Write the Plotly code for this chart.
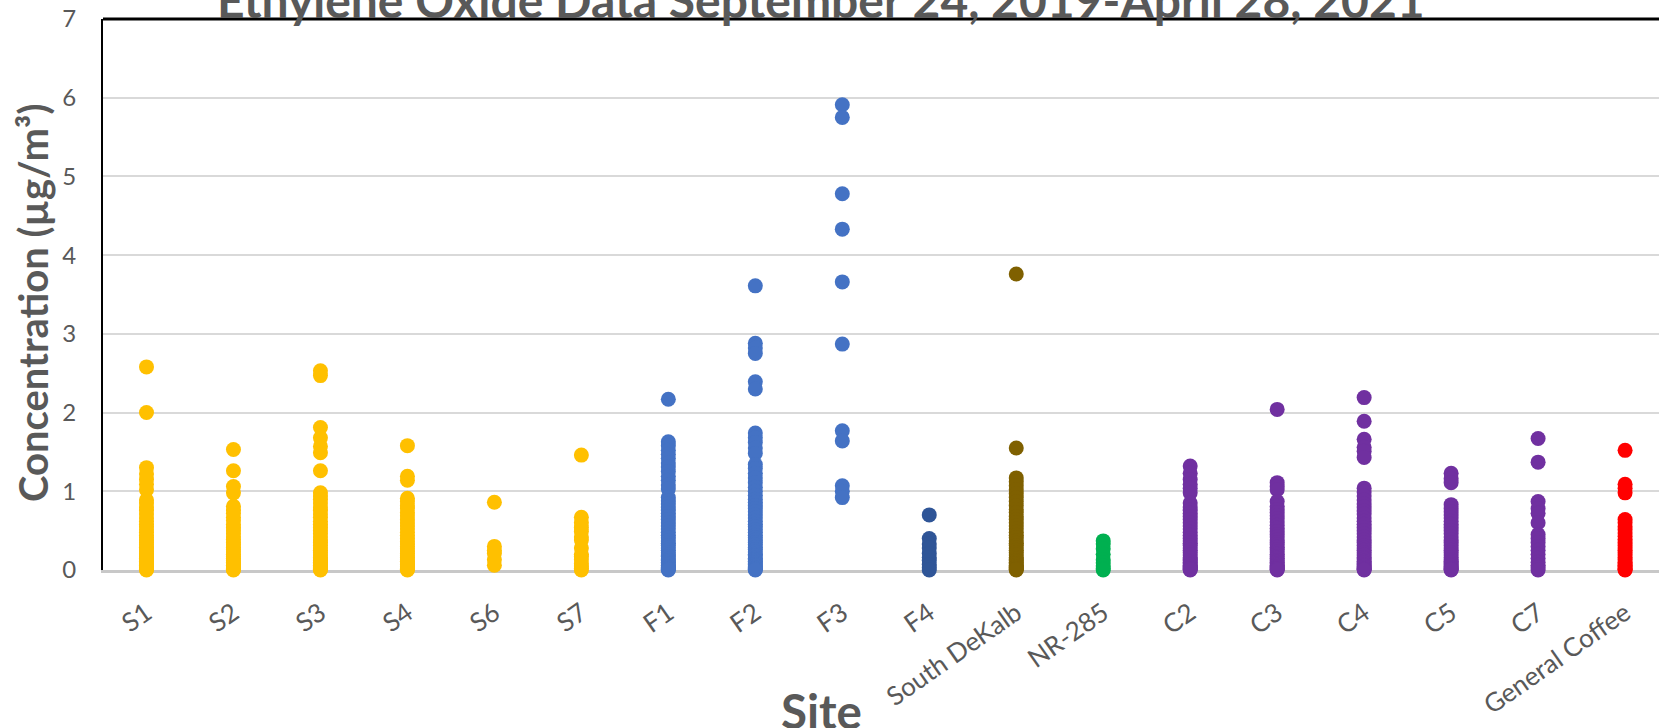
import plotly.graph_objects as go

sites = ["S1", "S2", "S3", "S4", "S6", "S7", "F1", "F2", "F3", "F4",
         "South DeKalb", "NR-285", "C2", "C3", "C4", "C5", "C7", "General Coffee"]

S1 = [2.58, 2.0, 1.30, 1.22, 1.15, 1.09, 1.02, 0.89, 0.85, 0.8, 0.76, 0.71, 0.66, 0.62, 0.58, 0.55,
      0.51, 0.48, 0.44, 0.41, 0.38, 0.35, 0.32, 0.29, 0.27, 0.24, 0.21, 0.19, 0.17, 0.15, 0.13, 0.11,
      0.09, 0.07, 0.06, 0.05, 0.04, 0.03, 0.02, 0.01, 0.0]
S2 = [1.53, 1.26, 1.06, 0.98, 0.81, 0.76, 0.72, 0.67, 0.63, 0.58, 0.54, 0.5, 0.46, 0.42, 0.39, 0.35,
      0.32, 0.29, 0.26, 0.23, 0.2, 0.17, 0.15, 0.12, 0.1, 0.08, 0.06, 0.04, 0.03, 0.02, 0.01, 0.0]
S3 = [2.53, 2.47, 1.81, 1.68, 1.57, 1.49, 1.26, 0.98, 0.94, 0.9, 0.85, 0.8, 0.76, 0.71, 0.67, 0.62,
      0.58, 0.54, 0.5, 0.46, 0.42, 0.38, 0.35, 0.31, 0.28, 0.25, 0.22, 0.19, 0.16, 0.14, 0.12, 0.1,
      0.08, 0.06, 0.04, 0.03, 0.02, 0.01, 0.0]
S4 = [1.58, 1.19, 1.14, 0.91, 0.87, 0.82, 0.78, 0.73, 0.69, 0.64, 0.6, 0.56, 0.52, 0.48, 0.44, 0.4,
      0.36, 0.33, 0.3, 0.27, 0.24, 0.21, 0.18, 0.16, 0.13, 0.11, 0.09, 0.07, 0.05, 0.04, 0.02, 0.01, 0.0]
S6 = [0.86, 0.30, 0.25, 0.21, 0.13, 0.06]
S7 = [1.46, 0.67, 0.6, 0.54, 0.49, 0.42, 0.38, 0.28, 0.2, 0.17, 0.13, 0.08, 0.05, 0.02, 0.0]
F1 = [2.17, 1.63, 1.58, 1.52, 1.47, 1.42, 1.36, 1.31, 1.25, 1.19, 1.14, 1.08, 1.03, 0.92, 0.88, 0.84,
      0.8, 0.76, 0.72, 0.68, 0.64, 0.6, 0.56, 0.52, 0.48, 0.44, 0.41, 0.37, 0.34, 0.31, 0.28, 0.25,
      0.22, 0.19, 0.17, 0.14, 0.12, 0.1, 0.08, 0.06, 0.04, 0.03, 0.02, 0.01, 0.0]
F2 = [3.61, 2.88, 2.82, 2.75, 2.39, 2.30, 1.74, 1.68, 1.62, 1.55, 1.48, 1.34, 1.29, 1.23, 1.17, 1.11,
      1.05, 1.0, 0.95, 0.9, 0.86, 0.82, 0.78, 0.74, 0.7, 0.66, 0.62, 0.58, 0.55, 0.51, 0.48, 0.44,
      0.41, 0.38, 0.35, 0.32, 0.29, 0.26, 0.23, 0.2, 0.18, 0.15, 0.13, 0.11, 0.09, 0.07, 0.05, 0.03,
      0.02, 0.01, 0.0]
F3 = [5.91, 5.75, 4.78, 4.33, 3.66, 2.87, 1.77, 1.64, 1.07, 1.0, 0.92]
F4 = [0.70, 0.40, 0.33, 0.28, 0.21, 0.16, 0.12, 0.07, 0.03, 0.0]
SDK = [3.76, 1.55, 1.17, 1.12, 1.07, 1.02, 0.97, 0.92, 0.87, 0.82, 0.77, 0.73, 0.68, 0.64, 0.6, 0.56,
       0.52, 0.48, 0.44, 0.41, 0.37, 0.34, 0.31, 0.28, 0.25, 0.22, 0.19, 0.16, 0.14, 0.12, 0.1, 0.08,
       0.06, 0.04, 0.03, 0.02, 0.01, 0.0]
NR285 = [0.37, 0.33, 0.27, 0.2, 0.13, 0.09, 0.05, 0.02, 0.0]
C2 = [1.32, 1.23, 1.15, 1.09, 1.04, 0.98, 0.85, 0.8, 0.76, 0.72, 0.68, 0.64, 0.6, 0.56, 0.52, 0.48,
      0.44, 0.4, 0.37, 0.34, 0.31, 0.28, 0.25, 0.22, 0.19, 0.16, 0.14, 0.12, 0.1, 0.08, 0.06, 0.04,
      0.03, 0.02, 0.01, 0.0]
C3 = [2.04, 1.11, 1.06, 1.02, 0.87, 0.81, 0.77, 0.73, 0.69, 0.65, 0.61, 0.57, 0.53, 0.49, 0.45, 0.42,
      0.38, 0.35, 0.32, 0.29, 0.26, 0.23, 0.2, 0.17, 0.15, 0.12, 0.1, 0.08, 0.06, 0.04, 0.03, 0.02,
      0.01, 0.0]
C4 = [2.19, 1.89, 1.66, 1.56, 1.51, 1.43, 1.04, 0.99, 0.94, 0.89, 0.84, 0.8, 0.75, 0.71, 0.66, 0.62,
      0.58, 0.54, 0.5, 0.46, 0.42, 0.38, 0.35, 0.31, 0.28, 0.25, 0.22, 0.19, 0.16, 0.14, 0.11, 0.09,
      0.07, 0.05, 0.03, 0.02, 0.01, 0.0]
C5 = [1.23, 1.16, 1.11, 0.83, 0.78, 0.74, 0.7, 0.66, 0.62, 0.58, 0.54, 0.5, 0.46, 0.42, 0.38, 0.35,
      0.31, 0.28, 0.25, 0.22, 0.19, 0.16, 0.13, 0.11, 0.09, 0.07, 0.05, 0.03, 0.02, 0.01, 0.0]
C7 = [1.67, 1.37, 0.87, 0.78, 0.72, 0.6, 0.45, 0.4, 0.35, 0.3, 0.25, 0.2, 0.15, 0.1, 0.06, 0.03, 0.0]
GC = [1.52, 1.09, 1.04, 0.98, 0.64, 0.6, 0.55, 0.51, 0.47, 0.43, 0.39, 0.35, 0.31, 0.28, 0.25, 0.22,
      0.19, 0.16, 0.13, 0.1, 0.08, 0.06, 0.04, 0.02, 0.01, 0.0]

values = [S1, S2, S3, S4, S6, S7, F1, F2, F3, F4, SDK, NR285, C2, C3, C4, C5, C7, GC]

YELLOW, BLUE, DBLUE, BROWN, GREEN, PURPLE, RED = (
    "#FFC000", "#4472C4", "#2F5597", "#7F6000", "#00B050", "#7030A0", "#FF0000")
colors = [YELLOW] * 6 + [BLUE] * 3 + [DBLUE, BROWN, GREEN] + [PURPLE] * 5 + [RED]

title_text = "Ethylene Oxide Data September 24, 2019-April 28, 2021"
y_title = "Concentration (µg/m³)"
x_title = "Site"

FONT = "Lato"
GREY = "#595959"

fig = go.Figure()
for site, vals, col in zip(sites, values, colors):
    fig.add_trace(go.Scatter(
        x=[site] * len(vals), y=vals, mode="markers", name=site,
        marker=dict(size=15, color=col, line=dict(width=0)),
        cliponaxis=False, showlegend=False))

fig.update_layout(
    width=1659, height=728,
    margin=dict(l=103, r=0, t=19, b=158, autoexpand=False),
    paper_bgcolor="white", plot_bgcolor="white",
    font=dict(family=FONT, color=GREY),
    xaxis=dict(
        type="category", categoryorder="array", categoryarray=sites,
        range=[-0.5, 17.39], showgrid=False, zeroline=False,
        showline=True, linecolor="#C8C8C8", linewidth=2.5,
        ticks="", tickangle=-35, tickfont=dict(size=26, color=GREY, family=FONT),
        ticklabelstandoff=15, layer="below traces", automargin=False),
    yaxis=dict(
        range=[0, 7], dtick=1, showgrid=True, gridcolor="#D9D9D9", gridwidth=1.5,
        zeroline=False, showline=True, linecolor="black", linewidth=2,
        ticks="", tickfont=dict(size=24, color=GREY, family=FONT),
        ticklabelstandoff=20, layer="below traces", automargin=False),
    shapes=[dict(type="line", xref="paper", yref="paper", x0=0, x1=1, y0=1, y1=1,
                 line=dict(color="black", width=3))],
    annotations=[
        dict(text="<b>" + title_text + "</b>", xref="paper", yref="paper",
             x=0.4616, y=1.036, xanchor="center", yanchor="middle", showarrow=False,
             font=dict(size=48, color=GREY, family=FONT)),
        dict(text="<b>" + y_title + "</b>", xref="paper", yref="paper",
             x=-0.0454, y=0.485, xanchor="center", yanchor="middle", showarrow=False,
             textangle=-90, font=dict(size=40, color=GREY, family=FONT)),
        dict(text="<b>" + x_title + "</b>", xref="paper", yref="paper",
             x=0.4616, y=-0.255, xanchor="center", yanchor="middle", showarrow=False,
             font=dict(size=47.5, color=GREY, family=FONT)),
    ],
)

fig.write_html("out.html", config={"displayModeBar": False},
               post_script="document.body.style.margin='0px';document.body.style.overflow='hidden';")
